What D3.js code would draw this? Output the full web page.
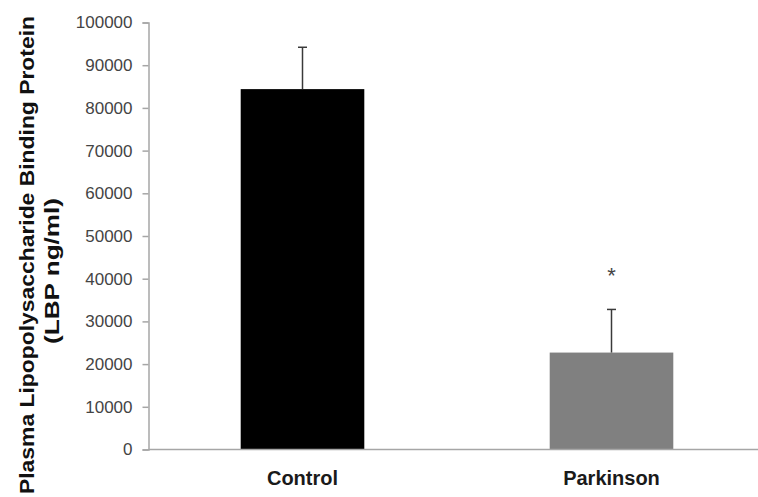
<!DOCTYPE html>
<html>
<head>
<meta charset="utf-8">
<script src="https://cdn.jsdelivr.net/npm/d3@7"></script>
<style>
  body { margin: 0; background: #fff; }
  svg { display: block; overflow: hidden; }
  text { font-family: "Liberation Sans", Arial, sans-serif; }
</style>
</head>
<body>
<svg id="chart" width="758" height="497"></svg>
<script>
// data
const groups = ["Control", "Parkinson"];
const means = [84400, 22700];
const errors = [9800, 10100];
const barColors = ["#000000", "#808080"];
const yTicks = [0, 10000, 20000, 30000, 40000, 50000, 60000, 70000, 80000, 90000, 100000];
const marks = ["", "*"];

const svg = d3.select("#chart");

const x = d3.scaleBand()
  .domain(groups)
  .range([148, 766])
  .paddingInner(0.6)
  .paddingOuter(0.3);

const y = d3.scaleLinear()
  .domain([0, 100000])
  .range([449.5, 22.5]);

const axisColor = "#a6a6a6";

// y axis
const yAxis = svg.append("g")
  .attr("transform", "translate(148.5,0)")
  .call(d3.axisLeft(y).tickValues(yTicks).tickSize(6).tickPadding(10).tickFormat(d3.format("d")));
yAxis.select(".domain").attr("stroke", axisColor).attr("stroke-width", 1.5);
yAxis.selectAll(".tick line").attr("stroke", axisColor).attr("stroke-width", 1.5);
yAxis.selectAll(".tick text")
  .attr("fill", "#444")
  .style("font-size", "17px");

// bars
const rows = groups.map((g, i) => ({ g, mean: means[i], err: errors[i], color: barColors[i], mark: marks[i] }));

svg.selectAll(".bar")
  .data(rows)
  .enter()
  .append("rect")
    .attr("class", "bar")
    .attr("x", d => x(d.g))
    .attr("y", d => y(d.mean))
    .attr("width", x.bandwidth())
    .attr("height", d => y(0) - y(d.mean))
    .attr("fill", d => d.color);

// error bars (upper only)
const eb = svg.selectAll(".err")
  .data(rows)
  .enter()
  .append("g")
    .attr("class", "err")
    .attr("stroke", "#3a3a3a")
    .attr("stroke-width", 1.5);
eb.append("line")
  .attr("x1", d => x(d.g) + x.bandwidth() / 2)
  .attr("x2", d => x(d.g) + x.bandwidth() / 2)
  .attr("y1", d => y(d.mean))
  .attr("y2", d => y(d.mean + d.err));
eb.append("line")
  .attr("x1", d => x(d.g) + x.bandwidth() / 2 - 4.5)
  .attr("x2", d => x(d.g) + x.bandwidth() / 2 + 4.5)
  .attr("y1", d => y(d.mean + d.err))
  .attr("y2", d => y(d.mean + d.err));

// significance mark
svg.selectAll(".mark")
  .data(rows)
  .enter()
  .append("text")
    .attr("class", "mark")
    .attr("x", d => x(d.g) + x.bandwidth() / 2)
    .attr("y", d => y(d.mean + d.err) - 26)
    .attr("text-anchor", "middle")
    .attr("fill", "#444")
    .style("font-size", "22px")
    .text(d => d.mark);

// x axis
svg.append("line")
  .attr("x1", 148.5).attr("x2", 766)
  .attr("y1", y(0)).attr("y2", y(0))
  .attr("stroke", axisColor)
  .attr("stroke-width", 1.5);

svg.selectAll(".cat")
  .data(groups)
  .enter()
  .append("text")
    .attr("class", "cat")
    .attr("x", d => x(d) + x.bandwidth() / 2)
    .attr("y", 485)
    .attr("text-anchor", "middle")
    .attr("fill", "#1a1a1a")
    .style("font-size", "20px")
    .style("font-weight", "bold")
    .text(d => d);

// y axis title, two lines
svg.append("text")
  .attr("transform", "translate(34,255) rotate(-90)")
  .attr("text-anchor", "middle")
  .attr("fill", "#111")
  .style("font-size", "20px")
  .style("font-weight", "bold")
  .attr("textLength", 478)
  .attr("lengthAdjust", "spacingAndGlyphs")
  .text("Plasma Lipopolysaccharide Binding Protein");

svg.append("text")
  .attr("transform", "translate(59,271) rotate(-90)")
  .attr("text-anchor", "middle")
  .attr("fill", "#111")
  .style("font-size", "20px")
  .style("font-weight", "bold")
  .attr("textLength", 146)
  .attr("lengthAdjust", "spacingAndGlyphs")
  .text("(LBP ng/ml)");
</script>
</body>
</html>
